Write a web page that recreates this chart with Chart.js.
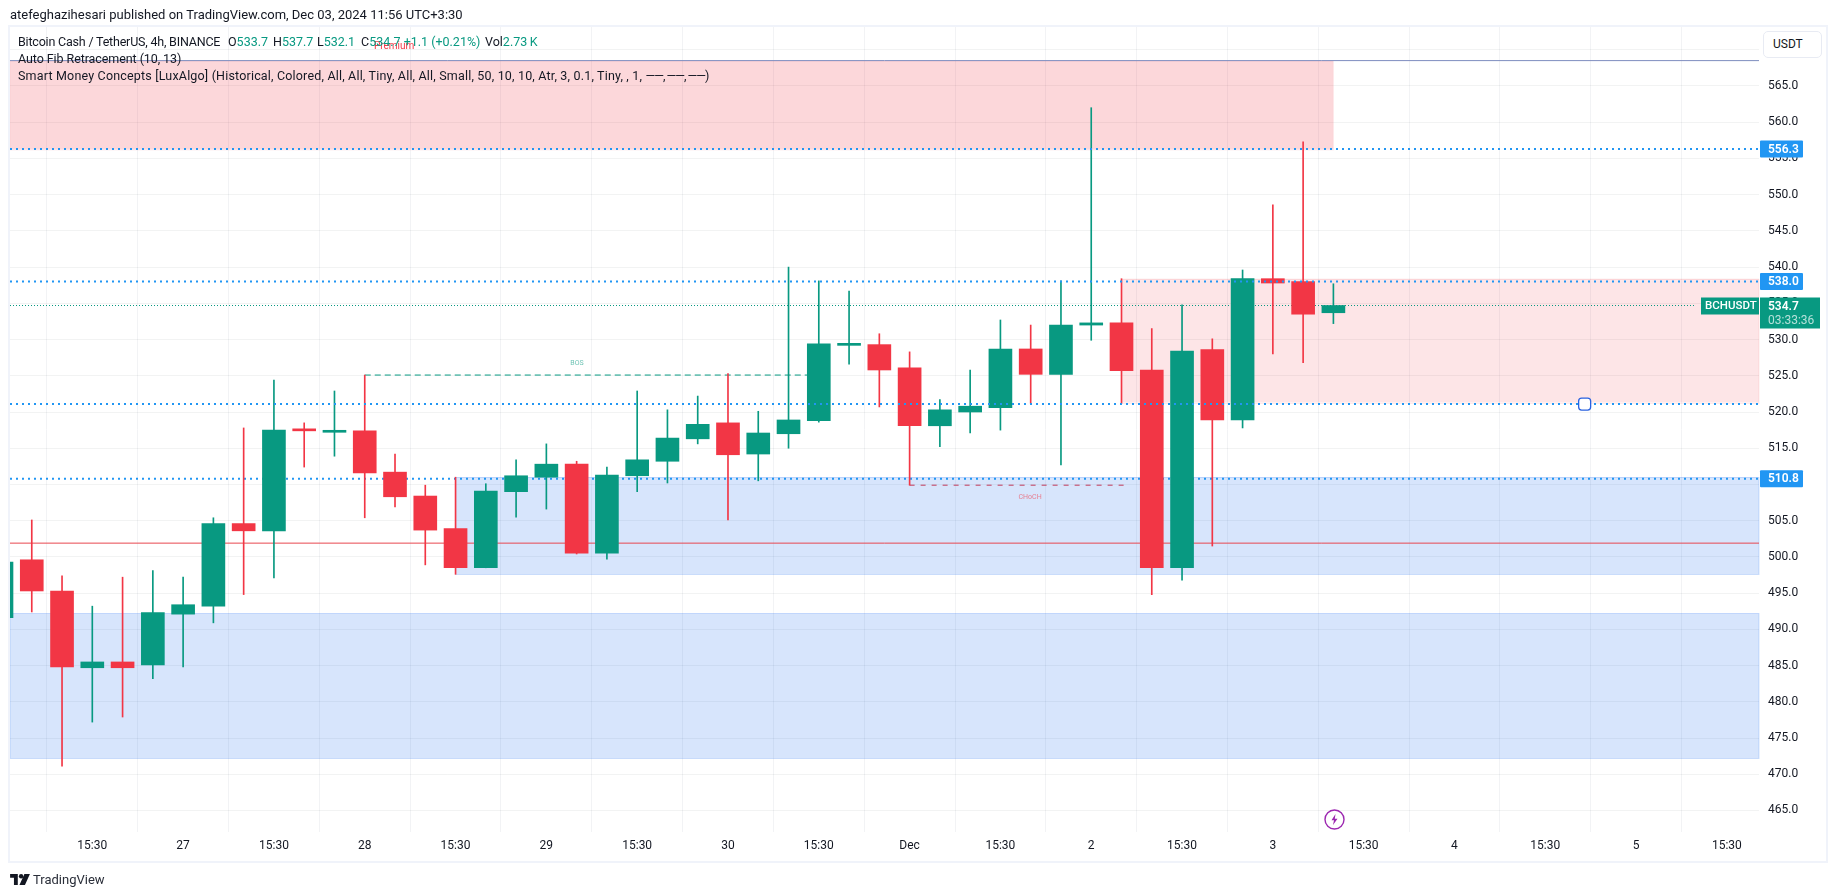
<!DOCTYPE html>
<html lang="en">
<head>
<meta charset="UTF-8">
<title>BCHUSDT 4h</title>
<script src="https://cdn.jsdelivr.net/npm/chart.js"></script>
<style>
  html, body { margin: 0; padding: 0; width: 1835px; height: 895px; overflow: hidden; background: #fff; font-family: Roboto, sans-serif; color: #131722; }
  #chart { position: absolute; left: 0; top: 0; }
  .frame { position: absolute; left: 8px; top: 25px; width: 1816px; height: 834px; border: 2px solid #f0f3fa; pointer-events: none; }
  .txt { position: absolute; white-space: nowrap; font-size: 12.5px; line-height: 16px; }
  .up { color: #089981; }
  .usdt { position: absolute; left: 1763px; top: 31px; width: 57px; height: 25px; border: 1px solid #e8ebf3; border-radius: 5px; font-size: 12px; line-height: 25px; text-indent: 9px; background: #fff; }
  .bolt { position: absolute; left: 1323.5px; top: 809px; }
  .logo { position: absolute; left: 10px; top: 869px; }
</style>
</head>
<body>
<canvas id="chart" width="1835" height="895"></canvas>
<div class="frame"></div>
<div class="txt" style="left:10px;top:7px;font-size:13px">atefeghazihesari published on TradingView.com, Dec 03, 2024 11:56 UTC+3:30</div>
<div class="txt" style="left:18px;top:34px;letter-spacing:-0.2px">Bitcoin Cash / TetherUS, 4h, BINANCE</div>
<div class="txt" style="left:228px;top:34px">O<span class="up">533.7</span></div>
<div class="txt" style="left:273px;top:34px">H<span class="up">537.7</span></div>
<div class="txt" style="left:317px;top:34px">L<span class="up">532.1</span></div>
<div class="txt" style="left:361px;top:34px">C<span class="up">534.7 +1.1 (+0.21%)</span></div>
<div class="txt" style="left:485px;top:34px">Vol<span class="up">2.73&#8201;K</span></div>
<div class="txt" style="left:18px;top:51px;letter-spacing:-0.08px">Auto Fib Retracement (10, 13)</div>
<div class="txt" style="left:18px;top:68px;letter-spacing:0.18px">Smart Money Concepts [LuxAlgo] (Historical, Colored, All, All, Tiny, All, All, Small, 50, 10, 10, Atr, 3, 0.1, Tiny, , 1, <span style="letter-spacing:-1px">——, ——, ——)</span></div>
<div class="usdt">USDT</div>
<svg class="bolt" width="21" height="21" viewBox="0 0 21 21"><circle cx="10.5" cy="10.5" r="9.5" fill="#fff" stroke="#9c27b0" stroke-width="1.4"/><path d="M11.5 5 L7.5 11.3 H10 L9 16 L13.5 9.7 H10.8 Z" fill="#9c27b0"/></svg>
<div class="logo">
  <svg width="20" height="11" viewBox="0 0 36 20" style="vertical-align:-1px"><path d="M0 0h14v20H7V7H0z M26 0h10L27 20H17z" fill="#131722"/><circle cx="20" cy="4" r="4" fill="#131722"/></svg><span style="font-size:13px;margin-left:3px;color:#2a2e39">TradingView</span>
</div>

<script>
  // candles (index 0 is the one cut by the left edge)
  const opens  = [491.6,499.6,495.3,484.7,485.5,485.1,492.1,493.2,504.6,503.6,517.6,517.2,517.4,511.7,508.4,503.9,498.5,509.0,511.0,512.8,500.5,511.2,513.2,516.3,518.5,514.2,517.0,518.8,529.2,529.3,526.1,518.1,520.0,520.6,528.7,525.2,532.0,532.3,525.8,498.5,528.6,518.9,538.4,538.0,533.7];
  const highs  = [499.3,505.1,497.4,493.2,497.2,498.1,497.2,505.4,517.8,524.4,518.5,522.9,525.1,514.2,509.9,511.0,510.1,513.4,515.6,513.2,512.4,522.9,520.3,522.2,525.3,520.1,540.0,538.1,536.7,530.8,528.3,521.7,525.8,532.7,532.0,538.1,562.0,538.4,531.5,534.8,530.1,539.6,548.6,557.3,537.7];
  const lows   = [491.6,492.4,471.1,477.2,477.9,483.2,484.8,490.9,494.8,497.1,512.4,513.9,505.4,506.9,498.9,497.6,498.5,505.5,506.6,500.4,499.7,509.0,510.2,515.6,505.1,510.5,515.0,518.6,526.6,520.7,509.9,515.2,517.1,517.5,521.2,512.7,529.9,521.2,494.8,496.8,501.5,517.8,528.0,526.8,532.2];
  const closes = [499.3,495.3,484.8,485.5,484.7,492.3,493.4,504.6,503.6,517.5,517.4,517.4,511.6,508.3,503.7,498.5,509.1,511.2,512.8,500.5,511.3,513.4,516.4,518.3,514.1,517.1,518.9,529.4,529.4,525.8,518.1,520.3,520.8,528.7,525.2,532.0,532.3,525.7,498.5,528.4,518.9,538.4,537.8,533.5,534.7];

  const timeTicks  = [3,6,9,12,15,18,21,24,27,30,33,36,39,42,45,48,51,54,57];
  const timeLabels = ['15:30','27','15:30','28','15:30','29','15:30','30','15:30','Dec','15:30','2','15:30','3','15:30','4','15:30','5','15:30'];
  const priceTicks = [465,470,475,480,485,490,495,500,505,510,515,520,525,530,535,540,545,550,555,560,565,570];
  const hiddenPriceTicks = [570];

  const xMin = 0.281, xMax = 58.06, yMin = 462.03, yMax = 573.14;

  // supply and demand boxes
  const zoneFrom   = [xMin, 37, xMin, 15];
  const zoneTo     = [44, xMax, xMax, xMax];
  const zoneTop    = [568.5, 538.4, 492.2, 511.0];
  const zoneBottom = [556.2, 521.3, 472.2, 497.6];
  const zoneFill   = ['rgba(242,54,69,0.2)', 'rgba(242,54,69,0.13)', 'rgba(33,110,240,0.18)', 'rgba(33,110,240,0.18)'];
  const zoneEdge   = ['rgba(242,54,69,0.04)', 'rgba(242,54,69,0.1)', 'rgba(33,110,240,0.2)', 'rgba(33,110,240,0.2)'];

  const levels     = [556.3, 538.0, 521.1, 510.8];
  const lastPrice  = 534.7;
  const equilibrium = 501.9;
  const fibTop     = 568.5;
  const bosLine    = [12, 26.65, 525.1];
  const chochLine  = [30, 37.2, 509.9];

  const green = '#089981', red = '#f23645';
  const idx = opens.map((_, i) => i);
  const colours = opens.map((o, i) => closes[i] >= o ? green : red);

  function hLine(x0, x1, y, color, width, dash, order) {
    return {
      type: 'line',
      data: [{x: x0, y: y}, {x: x1, y: y}],
      borderColor: color,
      borderWidth: width,
      borderDash: dash,
      pointRadius: 0,
      order: order
    };
  }

  const zonesPlugin = {
    id: 'zones',
    beforeDatasetsDraw(chart) {
      const {ctx, scales: {x, y}} = chart;
      ctx.save();
      zoneTop.forEach((t, i) => {
        const l = x.getPixelForValue(zoneFrom[i]), r = x.getPixelForValue(zoneTo[i]);
        const a = y.getPixelForValue(t), b = y.getPixelForValue(zoneBottom[i]);
        ctx.fillStyle = zoneFill[i];
        ctx.fillRect(l, a, r - l, b - a);
        ctx.strokeStyle = zoneEdge[i];
        ctx.lineWidth = 1;
        ctx.strokeRect(l, Math.round(a) + 0.5, r - l, Math.round(b - a));
      });
      ctx.restore();
    }
  };

  function tag(ctx, text, left, midY, w, h, bg, fg) {
    ctx.fillStyle = bg;
    ctx.beginPath();
    ctx.roundRect(left, midY - h / 2, w, h, 1);
    ctx.fill();
    ctx.fillStyle = fg;
    ctx.fillText(text, left + 8, midY + 0.5);
  }

  const labelsPlugin = {
    id: 'labels',
    afterDraw(chart) {
      const {ctx, scales: {x, y}} = chart;
      ctx.save();
      ctx.textBaseline = 'middle';
      ctx.textAlign = 'center';
      ctx.font = '7px Roboto';
      ctx.fillStyle = 'rgba(8,153,129,0.6)';
      ctx.fillText('BOS', x.getPixelForValue(19.01), y.getPixelForValue(526.7));
      ctx.fillStyle = 'rgba(242,54,69,0.6)';
      ctx.fillText('CHoCH', x.getPixelForValue(33.98), y.getPixelForValue(508.2));
      ctx.font = '10px Roboto';
      ctx.fillStyle = red;
      ctx.fillText('Premium', x.getPixelForValue(12.97), y.getPixelForValue(570.5));

      ctx.textAlign = 'left';
      ctx.font = '600 12px Roboto';
      levels.forEach((v, i) => {
        if (i === 2) return;
        tag(ctx, v.toFixed(1), x.right + 1, y.getPixelForValue(v), 43, 17, '#2196f3', '#fff');
      });
      // last price tags
      const py = y.getPixelForValue(lastPrice);
      ctx.fillStyle = green;
      ctx.fillRect(x.right + 1, py - 8, 60, 31);
      ctx.fillStyle = '#fff';
      ctx.fillText(lastPrice.toFixed(1), x.right + 9, py + 1);
      ctx.font = '12px Roboto';
      ctx.fillStyle = 'rgba(255,255,255,0.7)';
      ctx.fillText('03:33:36', x.right + 9, py + 15);
      ctx.fillStyle = green;
      ctx.fillRect(1701, py - 8, 58, 17);
      ctx.fillStyle = '#fff';
      ctx.font = '500 11.5px Roboto';
      ctx.fillText('BCHUSDT', 1705, py + 1);

      // alert handle on the 521 line
      ctx.beginPath();
      ctx.roundRect(x.getPixelForValue(52.3) - 6, y.getPixelForValue(levels[2]) - 6, 12, 12, 3);
      ctx.fillStyle = '#fff';
      ctx.fill();
      ctx.strokeStyle = '#2a62e0';
      ctx.lineWidth = 1.3;
      ctx.stroke();
      ctx.restore();
    }
  };

  new Chart(document.getElementById('chart').getContext('2d'), {
    data: {
      datasets: [
        hLine(xMin, xMax, equilibrium, '#e8474f', 1, [], 9),
        hLine(xMin, xMax, fibTop, '#7e8dbf', 1, [], 9),
        hLine(xMin, xMax, levels[3], '#2196f3', 2, [2, 4], 8),
        hLine(xMin, xMax, levels[0], '#2196f3', 2, [2, 4], 3),
        hLine(xMin, xMax, levels[1], '#2196f3', 2, [2, 4], 3),
        hLine(xMin, xMax, levels[2], '#2196f3', 2, [2, 4], 3),
        hLine(xMin, 55.93, lastPrice, green, 1, [1, 2], 6),
        hLine(bosLine[0], bosLine[1], bosLine[2], green, 1, [6, 4], 6),
        hLine(chochLine[0], chochLine[1], chochLine[2], '#c23a5a', 1, [5, 6], 6),
        {
          type: 'bar',
          data: idx.map(i => ({x: i, y: [lows[i], highs[i]]})),
          backgroundColor: colours,
          barThickness: 1,
          grouped: false,
          order: 5
        },
        {
          type: 'bar',
          data: idx.map(i => ({x: i, y: [Math.min(opens[i], closes[i]), Math.max(opens[i], closes[i])]})),
          backgroundColor: colours,
          barThickness: 23,
          grouped: false,
          minBarLength: 2,
          order: 4
        }
      ]
    },
    plugins: [zonesPlugin, labelsPlugin],
    options: {
      responsive: false,
      animation: false,
      layout: {padding: {left: 10, top: 27, right: 10, bottom: 35}},
      plugins: {legend: {display: false}, title: {display: false}, tooltip: {enabled: false}},
      scales: {
        x: {
          type: 'linear',
          min: xMin,
          max: xMax,
          offset: false,
          afterBuildTicks: s => { s.ticks = timeTicks.map(v => ({value: v})); },
          afterFit: s => { s.height = 28; },
          grid: {color: '#f2f3f5', lineWidth: 1, drawTicks: false},
          border: {display: false},
          ticks: {
            maxRotation: 0,
            autoSkip: false,
            padding: 7,
            color: '#131722',
            font: {family: 'Roboto', size: 12},
            callback: v => timeLabels[timeTicks.indexOf(v)]
          }
        },
        y: {
          position: 'right',
          min: yMin,
          max: yMax,
          afterBuildTicks: s => { s.ticks = priceTicks.map(v => ({value: v})); },
          afterFit: s => { s.width = 66; },
          grid: {color: 'rgba(42,46,57,0.06)', lineWidth: 1, drawTicks: false},
          border: {display: false},
          ticks: {
            autoSkip: false,
            padding: 9,
            color: '#131722',
            font: {family: 'Roboto', size: 12},
            callback: v => hiddenPriceTicks.includes(v) ? '' : v.toFixed(1)
          }
        }
      }
    }
  });
</script>
</body>
</html>
